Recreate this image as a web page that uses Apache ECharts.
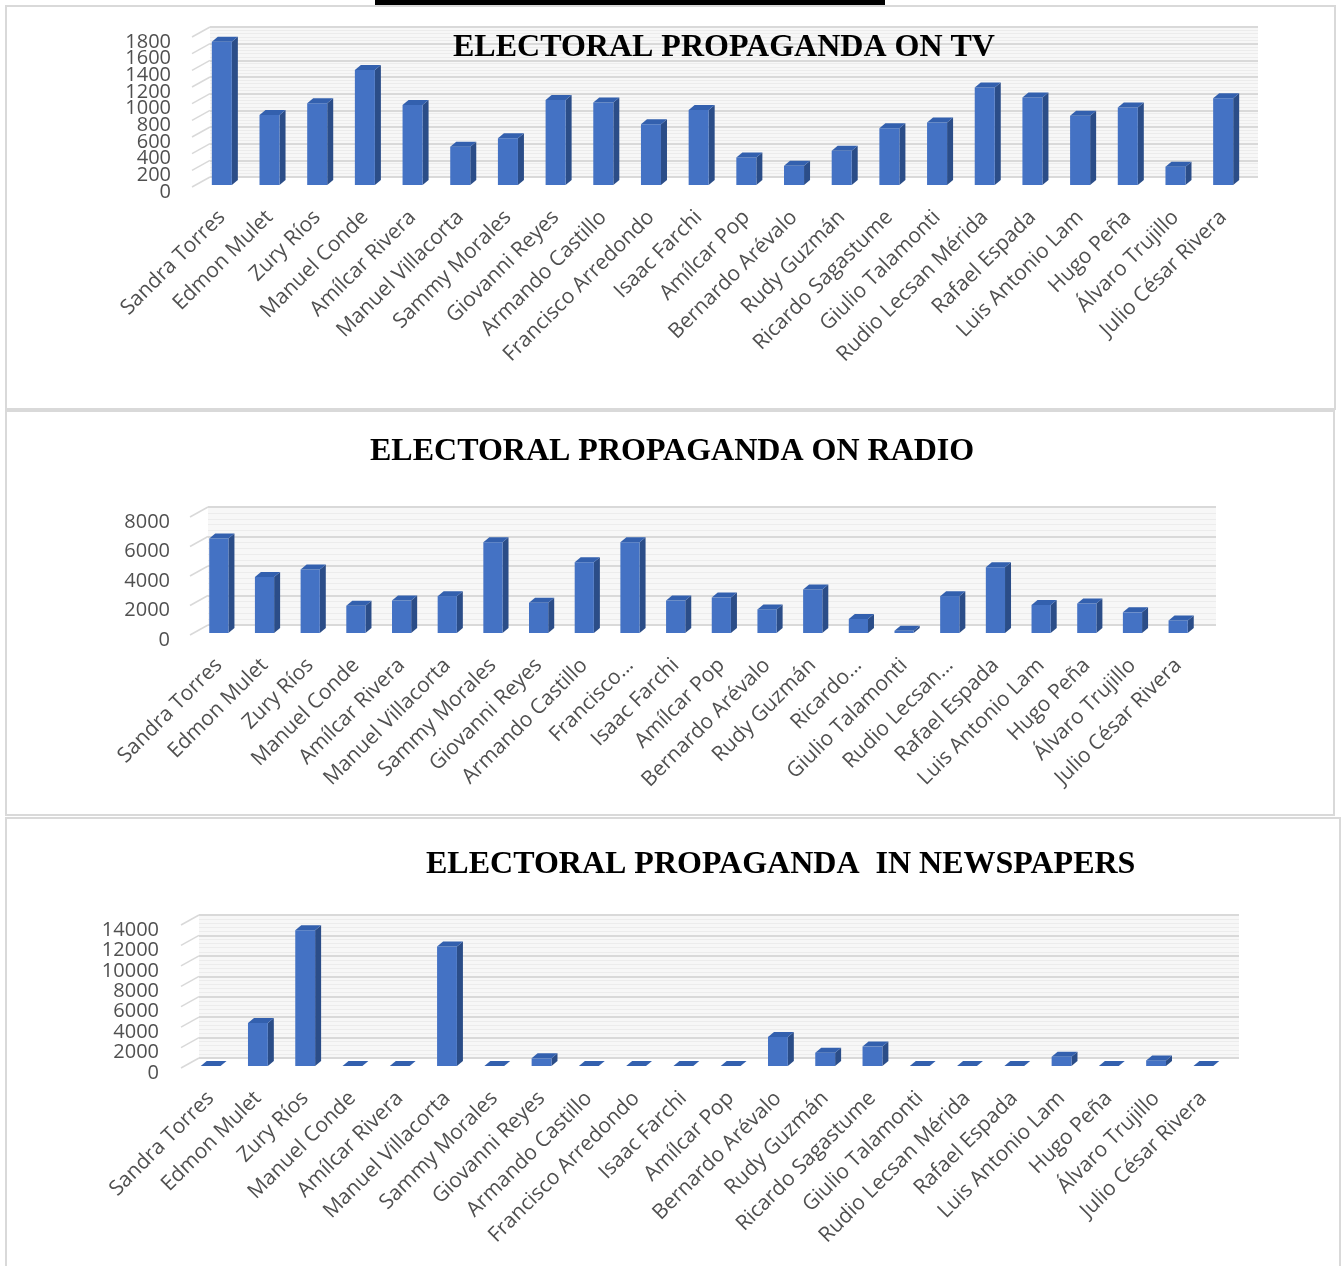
<!DOCTYPE html>
<html>
<head>
<meta charset="utf-8">
<title>Electoral propaganda</title>
<script src="https://cdn.jsdelivr.net/npm/echarts@6/dist/echarts.min.js"></script>
<style>
  html, body { margin: 0; padding: 0; background: #fff; }
  #chart { width: 1341px; height: 1266px; }
</style>
</head>
<body>
<div id="chart"></div>
<script>
// candidates, same order in all three charts
const candidates = [
  "Sandra Torres", "Edmon Mulet", "Zury Ríos", "Manuel Conde", "Amílcar Rivera",
  "Manuel Villacorta", "Sammy Morales", "Giovanni Reyes", "Armando Castillo",
  "Francisco Arredondo", "Isaac Farchi", "Amílcar Pop", "Bernardo Arévalo",
  "Rudy Guzmán", "Ricardo Sagastume", "Giulio Talamonti", "Rudio Lecsan Mérida",
  "Rafael Espada", "Luis Antonio Lam", "Hugo Peña", "Álvaro Trujillo", "Julio César Rivera"
];
// the radio chart shows some names cut short
const radioLabels = [
  "Sandra Torres", "Edmon Mulet", "Zury Ríos", "Manuel Conde", "Amílcar Rivera",
  "Manuel Villacorta", "Sammy Morales", "Giovanni Reyes", "Armando Castillo",
  "Francisco…", "Isaac Farchi", "Amílcar Pop", "Bernardo Arévalo",
  "Rudy Guzmán", "Ricardo…", "Giulio Talamonti", "Rudio Lecsan…",
  "Rafael Espada", "Luis Antonio Lam", "Hugo Peña", "Álvaro Trujillo", "Julio César Rivera"
];

const tvValues = [1720, 840, 980, 1380, 960, 460, 560, 1020, 990, 730, 900,
  330, 230, 410, 680, 750, 1170, 1050, 830, 930, 220, 1040];
const radioValues = [6400, 3800, 4300, 1850, 2200, 2500, 6150, 2050, 4800, 6150, 2200,
  2400, 1600, 2950, 950, 150, 2500, 4450, 1900, 2000, 1400, 850];
const pressValues = [0, 4200, 13300, 0, 0, 11700, 0, 750, 0, 0, 0,
  0, 2850, 1300, 1900, 0, 0, 0, 900, 0, 550, 0];

const tvTicks = [0, 200, 400, 600, 800, 1000, 1200, 1400, 1600, 1800];
const radioTicks = [0, 2000, 4000, 6000, 8000];
const pressTicks = [0, 2000, 4000, 6000, 8000, 10000, 12000, 14000];

const titles = [
  "ELECTORAL PROPAGANDA ON TV",
  "ELECTORAL PROPAGANDA ON RADIO",
  "ELECTORAL PROPAGANDA  IN NEWSPAPERS"
];

const FRONT = "#4472C4";
const SIDE = "#2B4D88";
const CAP = "#3360AE";
const LABEL = "#505050";
const DEPTH_X = 6, DEPTH_Y = 5;

// layout of each panel: front plane (bars, labels) and back wall (grid lines)
const panels = [
  { labels: candidates, values: tvValues, ticks: tvTicks, title: titles[0],
    titlePos: { left: 453, top: 32 }, labelRight: 171,
    front: { left: 198, top: 35, width: 1049, height: 150 },
    back: { left: 210, top: 27, width: 1048, height: 150 } },
  { labels: radioLabels, values: radioValues, ticks: radioTicks, title: titles[1],
    titlePos: { left: 370, top: 436 }, labelRight: 170,
    front: { left: 196, top: 515, width: 1005, height: 118 },
    back: { left: 208, top: 507, width: 1008, height: 118 } },
  { labels: candidates, values: pressValues, ticks: pressTicks, title: titles[2],
    titlePos: { left: 426, top: 849 }, labelRight: 159,
    front: { left: 187, top: 923, width: 1040, height: 143 },
    back: { left: 199, top: 915, width: 1040, height: 143 } }
];

const chart = echarts.init(document.getElementById("chart"), null, { renderer: "canvas" });

function bar3d(params, api) {
  const base = api.coord([api.value(0), 0]);
  const top = api.coord([api.value(0), api.value(1)]);
  const w = api.size([1, 0])[0] * 0.42;
  const x0 = base[0] - w / 2;
  const x1 = base[0] + w / 2;
  return {
    type: "group",
    children: [
      {
        type: "polygon",
        shape: { points: [[x1, base[1]], [x1, top[1]], [x1 + DEPTH_X, top[1] - DEPTH_Y], [x1 + DEPTH_X, base[1] - DEPTH_Y]] },
        style: { fill: SIDE }
      },
      {
        type: "rect",
        shape: { x: x0, y: top[1], width: w, height: base[1] - top[1] },
        style: { fill: FRONT }
      },
      {
        type: "polygon",
        shape: { points: [[x0, top[1]], [x1, top[1]], [x1 + DEPTH_X, top[1] - DEPTH_Y], [x0 + DEPTH_X, top[1] - DEPTH_Y]] },
        style: { fill: CAP }
      }
    ]
  };
}

// left side wall: slanted line per tick joining the front axis to the back wall,
// plus the tick label (Excel lets these overlap, so they are drawn here)
function sideWall(labelRight) {
  return function (params, api) {
    const v = api.value(0);
    const p = api.coord([0, v]);
    const x = params.coordSys.x;
    return {
      type: "group",
      children: [
        {
          type: "line",
          shape: { x1: x - 6, y1: p[1] + 2, x2: x + 12, y2: p[1] - 8 },
          style: { stroke: "#d9d9d9", lineWidth: 1.5 }
        },
        {
          type: "text",
          style: {
            x: labelRight, y: p[1] + 7, text: String(v),
            align: "right", verticalAlign: "middle",
            fill: LABEL, font: "20px 'Open Sans'"
          }
        }
      ]
    };
  };
}

const grid = [], xAxis = [], yAxis = [], series = [], title = [];

panels.forEach((p, i) => {
  const max = p.ticks[p.ticks.length - 1];
  const step = p.ticks[1] - p.ticks[0];
  const gBack = i * 2, gFront = i * 2 + 1;

  grid.push(Object.assign({ containLabel: false }, p.back));
  grid.push(Object.assign({ containLabel: false }, p.front));

  title.push({
    text: p.title, left: p.titlePos.left, top: p.titlePos.top, padding: 0,
    textStyle: { fontFamily: "Liberation Serif", fontWeight: "bold", fontSize: 32, color: "#000" }
  });

  // back wall
  xAxis.push({
    type: "category", gridIndex: gBack, data: p.labels,
    axisLine: { show: false }, axisTick: { show: false }, axisLabel: { show: false }
  });
  yAxis.push({
    type: "value", gridIndex: gBack, min: 0, max: max, interval: step,
    axisLine: { show: false }, axisTick: { show: false }, axisLabel: { show: false },
    splitLine: { show: true, lineStyle: { color: "#d9d9d9", width: 2 } },
    minorTick: { show: false, splitNumber: 5 },
    minorSplitLine: { show: true, lineStyle: { color: "#ececec", width: 1 } },
    splitArea: { show: true, areaStyle: { color: ["#f7f7f7", "#f7f7f7"] } }
  });

  // front plane
  xAxis.push({
    type: "category", gridIndex: gFront, data: p.labels,
    axisLine: { show: false }, axisTick: { show: false },
    axisLabel: {
      interval: 0, rotate: 45, margin: 29, color: LABEL,
      fontFamily: "Open Sans", fontSize: 21
    }
  });
  yAxis.push({
    type: "value", gridIndex: gFront, min: 0, max: max, interval: step,
    axisLine: { show: false }, axisTick: { show: false }, splitLine: { show: false },
    axisLabel: { show: false }
  });

  series.push({
    type: "custom", name: "wall" + i,
    xAxisIndex: gFront, yAxisIndex: gFront,
    data: p.ticks.map(t => [t]),
    renderItem: sideWall(p.labelRight), silent: true, z: 1
  });
  series.push({
    type: "custom", name: p.title,
    xAxisIndex: gFront, yAxisIndex: gFront,
    encode: { x: 0, y: 1 },
    data: p.values.map((v, k) => [k, v]),
    renderItem: bar3d, z: 3
  });
});

chart.setOption({
  animation: false,
  backgroundColor: "#fff",
  title: title,
  grid: grid,
  xAxis: xAxis,
  yAxis: yAxis,
  series: series,
  graphic: [
    { type: "rect", left: 375, top: 0, shape: { width: 510, height: 5 }, style: { fill: "#000" } },
    { type: "rect", shape: { x: 6, y: 6, width: 1329, height: 403 }, style: { fill: null, stroke: "#d9d9d9", lineWidth: 2 }, silent: true },
    { type: "rect", shape: { x: 6, y: 411, width: 1328, height: 404 }, style: { fill: null, stroke: "#d9d9d9", lineWidth: 2 }, silent: true },
    { type: "rect", shape: { x: 6, y: 818, width: 1334, height: 460 }, style: { fill: null, stroke: "#d9d9d9", lineWidth: 2 }, silent: true }
  ]
});

window.addEventListener("resize", () => chart.resize());
</script>
</body>
</html>
